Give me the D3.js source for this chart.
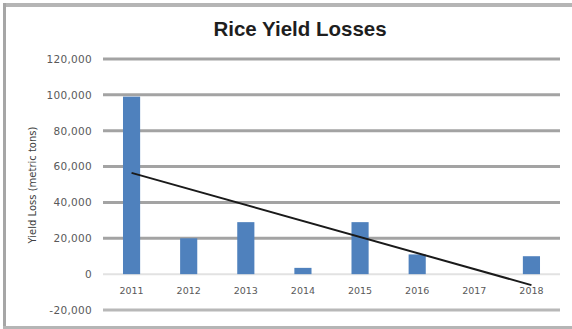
<!DOCTYPE html>
<html>
<head>
<meta charset="utf-8">
<script src="https://cdn.jsdelivr.net/npm/d3@7"></script>
<style>
  html, body { margin: 0; padding: 0; background: #fff; }
  svg { display: block; }
</style>
</head>
<body>
<svg id="chart" width="572" height="329"></svg>
<script>
// Annual rice yield losses (metric tons)
const years = ["2011", "2012", "2013", "2014", "2015", "2016", "2017", "2018"];
const losses = [99000, 20000, 29000, 3500, 29000, 11000, 0, 10000];
const yTicks = [-20000, 0, 20000, 40000, 60000, 80000, 100000, 120000];

const svg = d3.select("#chart");
const W = 572, H = 329;

// Outer frame (top, left, bottom edges)
svg.append("rect").attr("x", 3).attr("y", 3).attr("width", W - 3).attr("height", 4).attr("fill", "#b5b5b5");
svg.append("rect").attr("x", 3).attr("y", 3).attr("width", 3).attr("height", H - 3).attr("fill", "#a6a6a6");
svg.append("rect").attr("x", 3).attr("y", 326).attr("width", W - 3).attr("height", 3).attr("fill", "#b5b5b5");

const x = d3.scaleBand().domain(years).range([103, 560]).paddingInner(0.7).paddingOuter(0.35);
const y = d3.scaleLinear().domain([-20000, 120000]).range([310, 59]);

// Title
svg.append("text")
  .attr("x", 300).attr("y", 36)
  .attr("text-anchor", "middle")
  .attr("font-family", "Liberation Sans, Arial, sans-serif")
  .attr("font-weight", "bold")
  .attr("font-size", 20.5)
  .attr("fill", "#1e1e1e")
  .text("Rice Yield Losses");

// Horizontal gridlines
const gridColor = v => v === 0 ? "#e2e2e2" : (v === -20000 ? "#b8b8b8" : "#a3a3a3");
svg.append("g").selectAll("line").data(yTicks).join("line")
  .attr("x1", 103).attr("x2", 560)
  .attr("y1", d => y(d)).attr("y2", d => y(d))
  .attr("stroke", gridColor)
  .attr("stroke-width", d => d === 0 ? 2 : 3);

// Y axis labels
const yAxis = d3.axisLeft(y).tickValues(yTicks).tickSize(0).tickPadding(0)
  .tickFormat(d => d3.format(",")(d).replace("\u2212", "-"));
const gy = svg.append("g").attr("transform", "translate(92,0)").call(yAxis);
gy.select(".domain").remove();
gy.selectAll("text")
  .attr("font-family", "DejaVu Sans, sans-serif")
  .attr("font-size", 10.5)
  .attr("letter-spacing", 0.3)
  .attr("fill", "#595959");

// Y axis title
svg.append("text")
  .attr("transform", "translate(36,185) rotate(-90)")
  .attr("text-anchor", "middle")
  .attr("font-family", "DejaVu Sans, sans-serif")
  .attr("font-size", 10)
  .attr("fill", "#404040")
  .text("Yield Loss (metric tons)");

// Bars
svg.append("g").selectAll("rect").data(years).join("rect")
  .attr("x", d => x(d))
  .attr("width", x.bandwidth())
  .attr("y", (d, i) => y(Math.max(0, losses[i])))
  .attr("height", (d, i) => Math.abs(y(losses[i]) - y(0)))
  .attr("fill", "#4f81bd");

// X axis labels
const xAxis = d3.axisBottom(x).tickSize(0).tickPadding(0);
const gx = svg.append("g").attr("transform", "translate(0,287)").call(xAxis);
gx.select(".domain").remove();
gx.selectAll("text")
  .attr("font-family", "DejaVu Sans, sans-serif")
  .attr("font-size", 9.5)
  .attr("fill", "#595959");

// Linear trend line (least squares over category index)
const n = losses.length;
const idx = d3.range(1, n + 1);
const mx = d3.mean(idx), my = d3.mean(losses);
const sxy = d3.sum(idx, (k, i) => (k - mx) * (losses[i] - my));
const sxx = d3.sum(idx, k => (k - mx) * (k - mx));
const slope = sxy / sxx, intercept = my - slope * mx;
const trend = [
  { year: years[0], v: intercept + slope * 1 },
  { year: years[n - 1], v: intercept + slope * n }
];
svg.append("path")
  .datum(trend)
  .attr("d", d3.line().x(d => x(d.year) + x.bandwidth() / 2).y(d => y(d.v)))
  .attr("fill", "none")
  .attr("stroke", "#1a1a1a")
  .attr("stroke-width", 2);
</script>
</body>
</html>
